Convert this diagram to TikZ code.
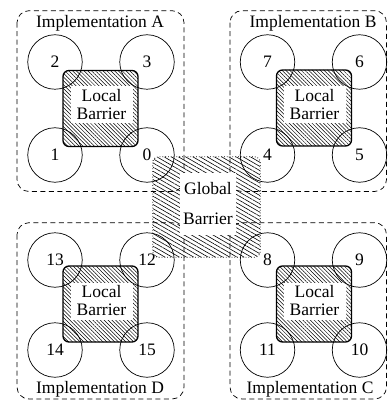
\documentclass[tikz,border=0pt]{standalone}
\usepackage{fontspec}
\setmainfont{Liberation Serif}
\usetikzlibrary{patterns.meta}
\begin{document}
\begin{tikzpicture}[x=1pt,y=-1pt,
  font=\fontsize{17.5}{18}\selectfont,
  implbox/.style={draw, dash pattern=on 5pt off 3.5pt, rounded corners=12pt, line width=0.7pt},
  proc/.style={draw, circle, minimum size=54.5pt, inner sep=0pt, line width=0.7pt},
  localbar/.style={draw, rectangle, line width=1.3pt, rounded corners=6pt,
    minimum width=75pt, minimum height=76pt, inner sep=0pt,
    pattern={Lines[angle=-45,distance=2.7pt,line width=0.5pt]}},
  localtext/.style={fill=white, align=center, inner sep=0pt, minimum width=62pt, minimum height=37pt},
  globalbar/.style={rectangle, rounded corners=6pt,
    minimum width=107pt, minimum height=100pt, inner sep=0pt,
    pattern={Lines[angle=-30,distance=3.6pt,line width=0.6pt]}},
  globalrim/.style={draw, dotted, line width=0.8pt, rounded corners=6pt},
  globaltext/.style={fill=white, align=center, inner sep=0pt, minimum width=56pt, minimum height=62pt,
    font=\fontsize{17.5}{30}\selectfont},
  impllabel/.style={inner sep=0pt}
]
\useasboundingbox (0,0) rectangle (391,403);
% implementation boxes
\draw[implbox] (17,10.7) rectangle (184,191.5);
\draw[implbox] (230,10.7) rectangle (386.5,191.5);
\draw[implbox] (17,222.7) rectangle (184,399);
\draw[implbox] (230,222.7) rectangle (386.5,399);
\node[impllabel] (lA) at (100,23) {Implementation A};
\node[impllabel] (lB) at (313,23) {Implementation B};
\node[impllabel] (lD) at (100,389) {Implementation D};
\node[impllabel] (lC) at (310,389) {Implementation C};
% global barrier
\node[globalbar] (gb) at (206.5,207) {};
\draw[globalrim] (gb.north west) rectangle (gb.south east);
% local barriers
\node[localbar] (bA) at (100.5,108.5) {};
\node[localbar] (bB) at (314,108) {};
\node[localbar] (bD) at (100.5,304) {};
\node[localbar] (bC) at (314,304) {};
\node[localtext] (tA) at (101.5,105) {Local\\Barrier};
\node[localtext] (tB) at (314.5,105) {Local\\Barrier};
\node[localtext] (tD) at (101.5,301) {Local\\Barrier};
\node[localtext] (tC) at (314.5,301) {Local\\Barrier};
% processes
\node[proc] (p2) at (55,62) {2};
\node[proc] (p3) at (147,62) {3};
\node[proc] (p1) at (55,155) {1};
\node[proc] (p0) at (147,155) {0};
\node[proc] (p7) at (267.5,62) {7};
\node[proc] (p6) at (359.5,62) {6};
\node[proc] (p4) at (267.5,155) {4};
\node[proc] (p5) at (359.5,155) {5};
\node[proc] (p13) at (55,260) {13};
\node[proc] (p12) at (147,260) {12};
\node[proc] (p14) at (55,350) {14};
\node[proc] (p15) at (147,350) {15};
\node[proc] (p8) at (267.5,260) {8};
\node[proc] (p9) at (359.5,260) {9};
\node[proc] (p11) at (267.5,350) {11};
\node[proc] (p10) at (359.5,350) {10};
% global text
\node[globaltext] (gt) at (208,204) {Global\\Barrier};
\end{tikzpicture}
\end{document}
